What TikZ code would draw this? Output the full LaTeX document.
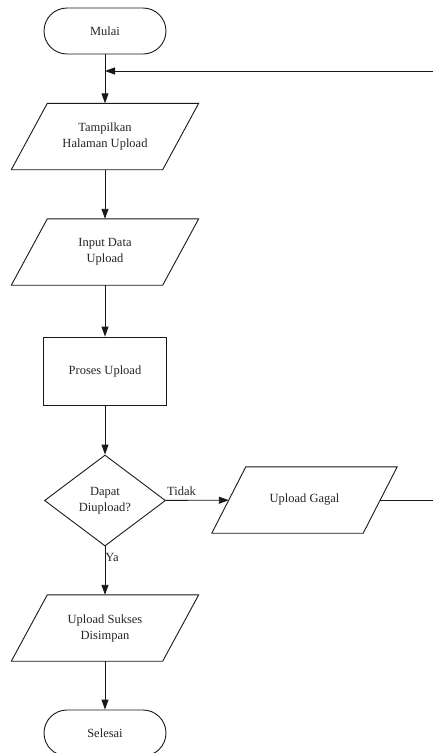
\documentclass[tikz,border=0pt]{standalone}
\usepackage{fontspec}
\setmainfont{Liberation Serif}
\usetikzlibrary{shapes.geometric,arrows.meta,calc}
\newcommand\ioshape[2]{\draw[line] ($(#1.north west)+(#2,0)$) -- ($(#1.north east)+(#2,0)$) -- ($(#1.south east)+(-#2,0)$) -- ($(#1.south west)+(-#2,0)$) -- cycle;}
\begin{document}
\begin{tikzpicture}[x=1pt,y=-1pt,
  line/.style={line width=0.9pt, draw=black!90},
  every node/.style={font=\fontsize{12.5}{16}\selectfont, text=black!85},
  term/.style={line, rounded corners=23pt, minimum width=122pt, minimum height=46pt, inner sep=0pt},
  io/.style={minimum width=151pt, minimum height=66pt, inner sep=0pt, align=center},
  proc/.style={line, minimum width=123pt, minimum height=68pt, inner sep=0pt},
  dec/.style={line, diamond, minimum width=121pt, minimum height=91pt, inner sep=0pt, align=center},
  arr/.style={line, -{Triangle[length=10pt,width=7pt]}},
  lbl/.style={inner sep=1pt}]
\useasboundingbox (0,0) rectangle (433,753);
\fill[white] (0,0) rectangle (433,753);

\node[term] (mulai) at (105,31) {Mulai};
\node[io] (tampil) at (105,136.5) {Tampilkan\\Halaman Upload};
\ioshape{tampil}{18}
\node[io] (input) at (105,252) {Input Data\\Upload};
\ioshape{input}{18}
\node[proc] (proses) at (105,371) {Proses Upload};
\node[dec] (dapat) at (105,500.5) {Dapat\\Diupload?};
\node[io] (gagal) at (304.5,500) {Upload Gagal};
\ioshape{gagal}{17}
\node[io] (sukses) at (105,628) {Upload Sukses\\Disimpan};
\ioshape{sukses}{18}
\node[term] (selesai) at (105,733) {Selesai};

\coordinate (fb) at (105,71);
\coordinate (rt) at (440,500);

\draw[arr] (mulai) -- (tampil);
\draw[arr] (tampil) -- (input);
\draw[arr] (input) -- (proses);
\draw[arr] (proses) -- (dapat);
\draw[arr] (dapat) -- node[lbl, pos=0.25, above, yshift=3pt] {Tidak} (gagal);
\draw[arr] (dapat) -- node[lbl, pos=0.22, right, xshift=-1pt] {Ya} (sukses);
\draw[arr] (sukses) -- (selesai);
\draw[arr] (gagal.east) -- (rt) |- (fb);
\end{tikzpicture}
\end{document}
